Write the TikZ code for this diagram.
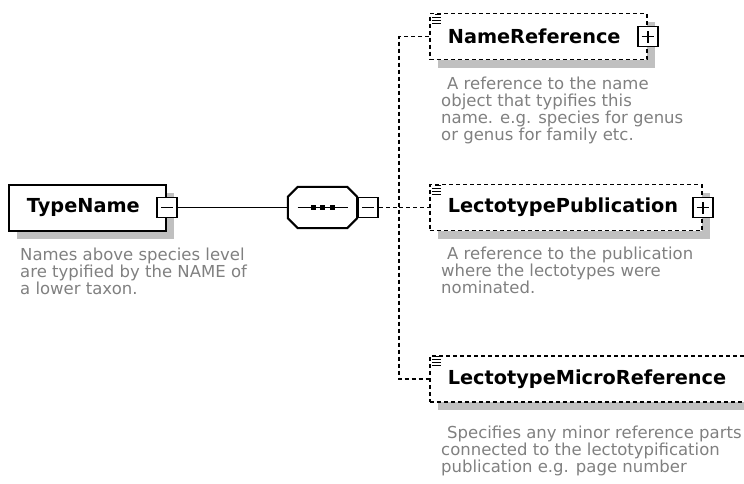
\documentclass[tikz,border=0pt]{standalone}
\usepackage{fontspec}
\setmainfont{DejaVu Sans}
\usetikzlibrary{shadows}
\definecolor{ink}{RGB}{0,0,0}
\definecolor{note}{RGB}{128,128,128}
\definecolor{shade}{RGB}{192,192,192}
\tikzset{
  elem/.style={draw=ink,line width=2pt,fill=white,minimum height=46pt,
    inner xsep=18pt,inner ysep=0pt,anchor=west,align=left,
    font=\fontsize{19.3}{22}\selectfont\bfseries,
    drop shadow={shadow xshift=8pt,shadow yshift=-8pt,fill=shade,opacity=1}},
  optelem/.style={elem,line width=1.7pt,dash pattern=on 4pt off 3pt},
  seqbox/.style={minimum width=69pt,minimum height=41pt,inner sep=0pt},
  octa/.style={draw=ink,line width=2pt,fill=white},
  desc/.style={anchor=north west,inner sep=0pt,align=left,text=note,
    font=\fontsize{16.5}{17}\selectfont},
  minusbox/.style={draw=ink,fill=white,line width=1.8pt,minimum size=20pt,inner sep=0pt,
    path picture={\draw[line width=1.6pt] ([xshift=-6pt]path picture bounding box.center)
      -- ([xshift=6pt]path picture bounding box.center);}},
  plusbox/.style={draw=ink,fill=white,line width=1.8pt,minimum size=20pt,inner sep=0pt,
    path picture={\draw[line width=1.6pt] ([xshift=-6pt]path picture bounding box.center)
      -- ([xshift=6pt]path picture bounding box.center)
      ([yshift=-6pt]path picture bounding box.center)
      -- ([yshift=6pt]path picture bounding box.center);}},
  link/.style={line width=1.8pt,draw=ink},
  optlink/.style={line width=1.6pt,draw=ink,dash pattern=on 4pt off 3pt},
  % pictograms
  pics/docmark/.style={code={
    \draw[ink,line width=1.3pt] (3,1.5) -- (9,1.5);
    \foreach \y in {4.5,7.5,10.5} \draw[ink,line width=1.3pt] (0,\y) -- (9,\y);
  }},
}
\begin{document}
\begin{tikzpicture}[x=1pt,y=-1pt]
        \useasboundingbox (0,0) rectangle (744,483);
        \clip (0,0) rectangle (744,483);
        % parent element
        \node[elem,text width=121pt] (typename) at (8,207.5) {TypeName};
        \node[desc] (typenote) at (20,248) {Names above species level\\are typified by the NAME of\\a lower taxon.};
        % sequence
        \node[seqbox] (seq) at (322.5,207.5) {};
        \fill[shade,xshift=8pt,yshift=-8pt] ([xshift=10pt]seq.north west) -- ([xshift=-10pt]seq.north east)
          -- ([yshift=-10pt]seq.north east) -- ([yshift=10pt]seq.south east) -- ([xshift=-10pt]seq.south east)
          -- ([xshift=10pt]seq.south west) -- ([yshift=10pt]seq.south west) -- ([yshift=-10pt]seq.north west) -- cycle;
        \draw[octa] ([xshift=10pt]seq.north west) -- ([xshift=-10pt]seq.north east)
          -- ([yshift=-10pt]seq.north east) -- ([yshift=10pt]seq.south east) -- ([xshift=-10pt]seq.south east)
          -- ([xshift=10pt]seq.south west) -- ([yshift=10pt]seq.south west) -- ([yshift=-10pt]seq.north west) -- cycle;
        \draw[link] ([xshift=-25pt]seq.center) -- ([xshift=25pt]seq.center);
        \foreach \dx in {-9.5,0,9.5}
          \fill[ink] ([xshift=\dx pt]seq.center) ++(-2.5,-2.5) rectangle ++(5,5);
        % children
        \node[optelem,text width=181pt] (namref) at (429,36.5) {NameReference};
        \node[desc] (namrefnote) at (441,77) {\hspace*{6pt}A reference to the name\\object that typifies this\\name. e.g. species for genus\\or genus for family etc.};
        \node[optelem,text width=236pt] (lecpub) at (429,207.5) {LectotypePublication};
        \node[desc] (lecpubnote) at (441,247) {\hspace*{6pt}A reference to the publication\\where the lectotypes were\\nominated.};
        \node[optelem,text width=294pt] (lecmicro) at (429,379) {LectotypeMicroReference};
        \node[desc] (lecmicronote) at (441,426) {\hspace*{6pt}Specifies any minor reference parts\\connected to the lectotypification\\publication e.g. page number};
        \foreach \n in {namref,lecpub,lecmicro}
          \pic at ([xshift=3pt]\n.north west) {docmark};
        % expand / collapse buttons
        \node[minusbox] (typeminus) at (typename.east) {};
        \node[minusbox,anchor=west] (seqminus) at (seq.east) {};
        \node[plusbox] (namrefplus) at (namref.east) {};
        \node[plusbox] (lecpubplus) at (lecpub.east) {};
        % connectors
        \coordinate (bus) at (399,207.5);
        \draw[link] (typeminus.east) -- (seq.west);
        \draw[optlink] (seqminus.east) -- (bus);
        \draw[optlink] (namref.west) -| (bus) |- (lecmicro.west);
        \draw[optlink] (bus) -- (lecpub.west);
\end{tikzpicture}
\end{document}
